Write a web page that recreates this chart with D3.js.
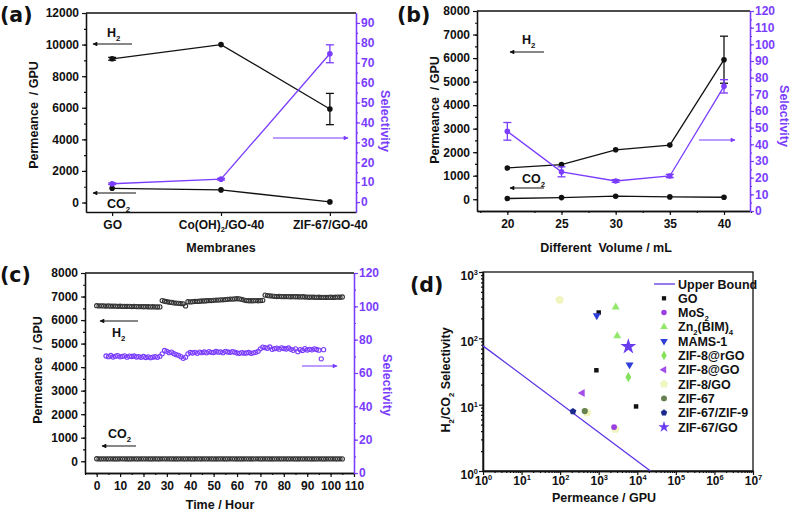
<!DOCTYPE html>
<html><head><meta charset="utf-8">
<script src="https://cdn.jsdelivr.net/npm/d3@7"></script>
<style>
body{margin:0;background:#fff}
svg{display:block}
</style></head><body>
<svg id="chart" width="794" height="512"></svg>
<script>
// ---------------- DATA ----------------
// (a)
const catsA = ["GO", "Co(OH)2/GO-40", "ZIF-67/GO-40"];
const catLabelsA = [["GO"], ["Co(OH)", ["2","sub"], "/GO-40"], ["ZIF-67/GO-40"]];
const h2A = [9100, 10000, 5920];
const h2ErrA = [90, 0, 990];
const co2A = [900, 800, 40];
const selA = [9.2, 11.5, 74.5];
const selErrA = [0.4, 0.4, 4.5];
const ticksALeft = [0, 2000, 4000, 6000, 8000, 10000, 12000];
const ticksARight = [0, 10, 20, 30, 40, 50, 60, 70, 80, 90];

// (b)
const volB = [20, 25, 30, 35, 40];
const h2B = [1330, 1470, 2100, 2300, 5930];
const h2ErrB = [0, 0, 0, 0, 1000];
const co2B = [30, 70, 130, 100, 85];
const selB = [47.8, 23.5, 18, 21, 74.8];
const selErrB = [5.3, 3, 0.8, 1, 4];
const ticksBX = [20, 25, 30, 35, 40];
const ticksBLeft = [0, 1000, 2000, 3000, 4000, 5000, 6000, 7000, 8000];
const ticksBRight = [0, 10, 20, 30, 40, 50, 60, 70, 80, 90, 100, 110, 120];

// (c)  H2 & CO2 sampled hourly from t=0, selectivity hourly from t=4
const h2C = [6610,6600,6605,6600,6595,6600,6590,6595,6590,6585,
  6590,6580,6585,6580,6585,6575,6580,6575,6570,6575,
  6565,6570,6565,6560,6565,6560,6555,6560,
  6830,6800,6780,6760,6750,6730,6720,6710,6700,6690,6600,6780,6770,
  6780,6790,6790,6800,6810,6810,6820,6830,6830,6840,6850,6850,6860,6860,6870,6880,6890,6890,6900,6910,
  6900,6880,6850,6830,6820,6820,6820,6830,6820,6830,6840,
  7060,7040,7030,7020,
  7010,7000,7005,7000,6995,7000,6995,6990,6995,6990,6990,6985,6990,6980,6975,6970,6975,6970,6965,6970,6960,6965,6960,6965,6970,6960,6970,6975,6970,6980];
const co2C = [105,100,98,102,100,99,101,100,98,100,
  102,101,99,100,100,98,101,100,99,102,
  100,101,99,98,100,101,100,99,104,102,
  100,101,99,100,98,100,102,100,99,101,
  100,100,98,101,100,99,102,100,101,99,
  100,98,100,101,100,99,100,102,101,100,
  99,100,98,100,101,99,100,100,102,101,
  99,100,101,100,98,100,99,101,100,100,
  102,99,100,101,98,100,100,99,101,100,
  102,100,99,100,98,101,100,100,99,101,
  100,102,99,100,101,100];
const selStartC = 4;
const selC = [70.2,69.8,70.5,69.6,70.1,70.4,69.7,70.0,70.3,69.5,70.1,69.9,70.2,69.6,69.8,69.4,69.9,69.3,69.7,69.2,69.5,69.8,69.4,70.0,
  71.5,73.5,73.0,72.2,72.5,71.6,71.0,70.6,69.8,68.8,69.5,71.5,72.3,
  72.0,72.4,71.8,72.5,72.2,72.6,72.1,72.8,72.4,72.3,72.9,72.5,72.7,72.2,73.0,72.6,72.4,72.8,72.5,72.0,
  71.8,72.2,71.9,72.0,72.3,71.8,72.1,72.4,73.0,
  74.5,75.5,75.2,74.8,75.6,74.2,
  74.6,74.9,74.3,75.1,74.7,74.4,75.0,74.2,73.6,74.5,72.8,74.0,73.5,74.6,73.8,74.2,73.9,74.5,74.1,73.7,
  68.5,74.0];
const ticksCX = [0,10,20,30,40,50,60,70,80,90,100,110];
const ticksCLeft = [0,1000,2000,3000,4000,5000,6000,7000,8000];
const ticksCRight = [0,20,40,60,80,100,120];

// (d)
const ubX = [1, 22000];
const ubY = [77, 1];
const seriesNames = ["GO","MoS2","Zn2(BIM)4","MAMS-1","ZIF-8@rGO","ZIF-8@GO","ZIF-8/GO","ZIF-67","ZIF-67/ZIF-9","ZIF-67/GO"];
const seriesLabels = [["GO"],["MoS",["2","sub"]],["Zn",["2","sub"],"(BIM)",["4","sub"]],["MAMS-1"],["ZIF-8@rGO"],["ZIF-8@GO"],["ZIF-8/GO"],["ZIF-67"],["ZIF-67/ZIF-9"],["ZIF-67/GO"]];
const seriesX = [[1000, 870, 9300],[2500],[2760, 3020],[890, 6300],[5870],[377],[97, 500, 2700],[435],[215],[5870]];
const seriesY = [[245, 33, 9.4],[4.6],[296, 109],[221, 40],[26],[15],[380, 7.6, 4.3],[8.0],[7.9],[75]];
const ticksDX = [1,1e1,1e2,1e3,1e4,1e5,1e6,1e7];
const ticksDY = [1,1e1,1e2,1e3];

// ---------------- DRAWING ----------------
const svg = d3.select("#chart");
const FONT = '"Liberation Sans", Arial, Helvetica, sans-serif';
const PURPLE = "#7a3cff";
const BLACK = "#111";

const defs = svg.append("defs");
[["ahK",BLACK],["ahP",PURPLE]].forEach(([id,c])=>{
  defs.append("marker").attr("id",id).attr("viewBox","0 0 10 10").attr("refX",9).attr("refY",5)
    .attr("markerWidth",5).attr("markerHeight",4).attr("orient","auto")
    .append("path").attr("d","M0,0L10,5L0,10z").attr("fill",c);
});

function rich(sel, parts, fs){
  let cur = 0;
  parts.forEach(p=>{
    const [t,k] = typeof p === "string" ? [p,"n"] : p;
    const target = k==="sub" ? fs*0.28 : k==="sup" ? -fs*0.42 : 0;
    const ts = sel.append("tspan").text(t);
    if (target - cur !== 0) ts.attr("dy", target - cur);
    if (k !== "n") ts.attr("font-size", fs*0.62);
    cur = target;
  });
}
function label(x, y, parts, o={}){
  const fs = o.fs || 12.5;
  const t = svg.append("text").attr("x",x).attr("y",y)
    .attr("font-family", o.family || FONT).attr("font-weight","bold")
    .attr("font-size", fs).attr("fill", o.color || BLACK)
    .attr("text-anchor", o.anchor || "start").style("white-space","pre");
  if (o.rotate) t.attr("transform", `rotate(${o.rotate},${x},${y})`);
  rich(t, typeof parts === "string" ? [parts] : parts, fs);
  return t;
}
function fmtAxis(g, color){
  g.attr("font-family", FONT).attr("font-size", 12).attr("font-weight","bold");
  g.selectAll("path.domain").attr("stroke", color).attr("stroke-width", 1.3);
  g.selectAll(".tick line").attr("stroke", color).attr("stroke-width", 1.2);
  g.selectAll(".tick text").attr("fill", color);
  return g;
}
function addAxis(fn, scale, tx, ty, majors, minors, color, o={}){
  if (minors.length){
    fmtAxis(svg.append("g").attr("transform",`translate(${tx},${ty})`)
      .call(fn(scale).tickValues(minors).tickSize(2).tickFormat("").tickSizeOuter(0)), color);
  }
  const ax = fn(scale).tickValues(majors).tickSize(4).tickPadding(o.pad ?? 3).tickSizeOuter(0)
    .tickFormat(o.fmt || d3.format("d"));
  return fmtAxis(svg.append("g").attr("transform",`translate(${tx},${ty})`).call(ax), color);
}
function hline(x1,x2,y,c=BLACK){
  svg.append("line").attr("x1",x1).attr("x2",x2).attr("y1",y).attr("y2",y).attr("stroke",c).attr("stroke-width",1.3);
}
function arrow(x1,x2,y,c){
  svg.append("line").attr("x1",x1).attr("x2",x2).attr("y1",y).attr("y2",y)
    .attr("stroke",c).attr("stroke-width",1.2).attr("marker-end", c===BLACK?"url(#ahK)":"url(#ahP)");
}
function series(xs, ys, errs, xs_, ys_, color){
  const pts = xs.map((x,i)=>[xs_(x), ys_(ys[i]), errs ? errs[i] : 0, ys[i]]);
  svg.append("path").attr("d", d3.line()(pts.map(p=>[p[0],p[1]])))
    .attr("fill","none").attr("stroke",color).attr("stroke-width",1.3);
  pts.forEach(p=>{
    if (p[2] > 0){
      const y1 = ys_(p[3]+p[2]), y2 = ys_(p[3]-p[2]);
      const g = svg.append("g").attr("stroke",color).attr("stroke-width",1.3);
      g.append("line").attr("x1",p[0]).attr("x2",p[0]).attr("y1",y1).attr("y2",y2);
      g.append("line").attr("x1",p[0]-4).attr("x2",p[0]+4).attr("y1",y1).attr("y2",y1);
      g.append("line").attr("x1",p[0]-4).attr("x2",p[0]+4).attr("y1",y2).attr("y2",y2);
    }
    svg.append("circle").attr("cx",p[0]).attr("cy",p[1]).attr("r",2.8).attr("fill",color);
  });
}
const range = (a,b,s)=>d3.range(a,b+1e-9,s);

// ===== Panel (a) =====
{
  const x = d3.scalePoint().domain(catsA).range([86,356]).padding(0.24);
  const y = d3.scaleLinear().domain([-600,12000]).range([212,13]);
  const y2 = d3.scaleLinear().domain([-5,95]).range([212,13]);
  hline(86,356,13);
  const gx = addAxis(d3.axisBottom, x, 0, 212, catsA, [], BLACK, {pad:4, fmt:()=>""});
  gx.selectAll(".tick text").each(function(d,i){ const t=d3.select(this); t.text(null); rich(t, catLabelsA[i], 12); });
  addAxis(d3.axisLeft, y, 86, 0, ticksALeft, range(0,12000,1000), BLACK);
  addAxis(d3.axisRight, y2, 356, 0, ticksARight, range(0,90,5), PURPLE, {pad:1});
  series(d3.range(catsA.length), co2A, null, i=>x(catsA[i]), y, BLACK);
  series(d3.range(catsA.length), h2A, h2ErrA, i=>x(catsA[i]), y, BLACK);
  series(d3.range(catsA.length), selA, selErrA, i=>x(catsA[i]), y2, PURPLE);
  arrow(132,93,44,BLACK); label(107,37,["H",["2","sub"]]);
  arrow(136,93,193,BLACK); label(107,208,["CO",["2","sub"]]);
  arrow(273,348,138,PURPLE);
  label(38,115,"Permeance  / GPU",{anchor:"middle",rotate:-90});
  label(381,121,"Selectivity",{anchor:"middle",rotate:90,color:PURPLE});
  label(221,252,"Membranes",{anchor:"middle"});
  label(0,22,"(a)",{fs:20.5,family:'"DejaVu Sans", sans-serif'});
}

// ===== Panel (b) =====
{
  const x = d3.scaleLinear().domain([17.2,42.4]).range([477,750]);
  const y = d3.scaleLinear().domain([-500,8000]).range([211,11]);
  const y2 = d3.scaleLinear().domain([0,120]).range([211,11]);
  hline(477,750,11);
  addAxis(d3.axisBottom, x, 0, 211, ticksBX, range(17.5,42.5,2.5), BLACK, {pad:4});
  addAxis(d3.axisLeft, y, 477, 0, ticksBLeft, range(0,8000,500), BLACK);
  addAxis(d3.axisRight, y2, 750, 0, ticksBRight, range(0,120,5), PURPLE, {pad:1});
  series(volB, co2B, null, x, y, BLACK);
  series(volB, h2B, h2ErrB, x, y, BLACK);
  series(volB, selB, selErrB, x, y2, PURPLE);
  arrow(544,510,52,BLACK); label(522,44,["H",["2","sub"]]);
  arrow(544,510,188,BLACK); label(522,183,["CO",["2","sub"]]);
  arrow(699,735,140,PURPLE);
  label(439,110,"Permeance  / GPU",{anchor:"middle",rotate:-90});
  label(780,116,"Selectivity",{anchor:"middle",rotate:90,color:PURPLE});
  label(606,252,"Different  Volume / mL",{anchor:"middle"});
  label(397,22,"(b)",{fs:20.5,family:'"DejaVu Sans", sans-serif'});
}

// ===== Panel (c) =====
{
  const x = d3.scaleLinear().domain([-5,110]).range([85,354]);
  const y = d3.scaleLinear().domain([-500,8000]).range([473,273]);
  const y2 = d3.scaleLinear().domain([0,120]).range([473,273]);
  hline(85,354,273);
  addAxis(d3.axisBottom, x, 0, 473, ticksCX, range(-5,110,5), BLACK, {pad:4});
  addAxis(d3.axisLeft, y, 85, 0, ticksCLeft, range(0,8000,500), BLACK);
  addAxis(d3.axisRight, y2, 354, 0, ticksCRight, range(0,120,10), PURPLE, {pad:1});
  const dots = (vals, t0, sc, c)=> svg.append("g").selectAll("circle").data(vals).join("circle")
      .attr("cx",(d,i)=>x(t0+i)).attr("cy",d=>sc(d)).attr("r",2.1)
      .attr("fill","none").attr("stroke",c).attr("stroke-width",1.1);
  dots(co2C, 0, y, "#333");
  dots(h2C, 0, y, "#333");
  dots(selC, selStartC, y2, PURPLE);
  arrow(138,100,321,BLACK); label(112,337,["H",["2","sub"]]);
  arrow(136,102,446,BLACK); label(108,438,["CO",["2","sub"]]);
  arrow(302,337,366,PURPLE);
  label(42,370,"Permeance  / GPU",{anchor:"middle",rotate:-90});
  label(383,385,"Selectivity",{anchor:"middle",rotate:90,color:PURPLE});
  label(220,509,"Time / Hour",{anchor:"middle"});
  label(0,282,"(c)",{fs:20.5,family:'"DejaVu Sans", sans-serif'});
}

// ===== Panel (d) =====
{
  const x = d3.scaleLog().domain([1,1e7]).range([483,753]);
  const y = d3.scaleLog().domain([1,1e3]).range([471,272]);
  svg.append("rect").attr("x",483).attr("y",272).attr("width",270).attr("height",199)
    .attr("fill","none").attr("stroke",BLACK).attr("stroke-width",1.3);
  const minX = []; ticksDX.slice(0,-1).forEach(d=>{ for(let m=2;m<10;m++) minX.push(d*m); });
  const minY = []; ticksDY.slice(0,-1).forEach(d=>{ for(let m=2;m<10;m++) minY.push(d*m); });
  const gx = addAxis(d3.axisBottom, x, 0, 471, ticksDX, minX, BLACK, {pad:3, fmt:()=>""});
  gx.selectAll(".tick text").each(function(d){ const t=d3.select(this); t.text(null); rich(t,["10",[String(Math.round(Math.log10(d))),"sup"]],12); t.attr("dy","0.62em"); });
  const gy = addAxis(d3.axisLeft, y, 483, 0, ticksDY, minY, BLACK, {pad:1, fmt:()=>""});
  gy.selectAll(".tick text").each(function(d){ const t=d3.select(this); t.text(null); rich(t,["10",[String(Math.round(Math.log10(d))),"sup"]],12); t.attr("dy","0.6em"); });

  svg.append("path").attr("d", d3.line()(ubX.map((v,i)=>[x(v), y(ubY[i])])))
    .attr("stroke","#5b33e6").attr("stroke-width",1.3).attr("fill","none");

  const pent = {draw(ctx,size){ const r=Math.sqrt(size/2.378); for(let i=0;i<5;i++){const a=-Math.PI/2+i*2*Math.PI/5; const px=r*Math.cos(a), py=r*Math.sin(a); i?ctx.lineTo(px,py):ctx.moveTo(px,py);} ctx.closePath(); }};
  const style = {
    "GO":{type:d3.symbolSquare,size:20,color:"#111",rot:0},
    "MoS2":{type:d3.symbolCircle,size:26,color:"#9b3fe3",rot:0},
    "Zn2(BIM)4":{type:d3.symbolTriangle,size:28,color:"#93e86c",rot:0},
    "MAMS-1":{type:d3.symbolTriangle,size:28,color:"#2f3ed8",rot:180},
    "ZIF-8@rGO":{type:d3.symbolDiamond,size:30,color:"#84e25c",rot:0},
    "ZIF-8@GO":{type:d3.symbolTriangle,size:28,color:"#a34ee8",rot:-90},
    "ZIF-8/GO":{type:pent,size:50,color:"#eff5bd",rot:0},
    "ZIF-67":{type:d3.symbolCircle,size:30,color:"#66804f",rot:0},
    "ZIF-67/ZIF-9":{type:pent,size:30,color:"#1c2a8c",rot:0},
    "ZIF-67/GO":{type:d3.symbolStar,size:80,color:"#6a3cf0",rot:0}
  };
  const order = [6,0,1,2,3,4,5,7,8,9];
  order.forEach(si=>{
    const st = style[seriesNames[si]];
    seriesX[si].forEach((xv,j)=>{
      svg.append("path").attr("d", d3.symbol().type(st.type).size(st.size)())
        .attr("transform",`translate(${x(xv)},${y(seriesY[si][j])}) rotate(${st.rot})`)
        .attr("fill", st.color);
    });
  });
  // legend
  const ly0 = 284, ldy = 14.3;
  svg.append("line").attr("x1",654).attr("x2",675).attr("y1",ly0).attr("y2",ly0).attr("stroke","#5b33e6").attr("stroke-width",1.3);
  label(678, ly0+4.5, "Upper Bound", {fs:12.5});
  seriesNames.forEach((n,i)=>{
    const st = style[n]; const cy = ly0 + (i+1)*ldy;
    const sz = n==="ZIF-67/GO" ? 40 : st.size*0.9;
    svg.append("path").attr("d", d3.symbol().type(st.type).size(sz)())
      .attr("transform",`translate(664,${cy}) rotate(${st.rot})`).attr("fill", st.color);
    label(678, cy+4.5, seriesLabels[i], {fs:12.5});
  });
  label(450,380,["H",["2","sub"],"/CO",["2","sub"]," Selectivity"],{anchor:"middle",rotate:-90});
  label(604,502,"Permeance / GPU",{anchor:"middle"});
  label(410,292,"(d)",{fs:20.5,family:'"DejaVu Sans", sans-serif'});
}
</script>
</body></html>
